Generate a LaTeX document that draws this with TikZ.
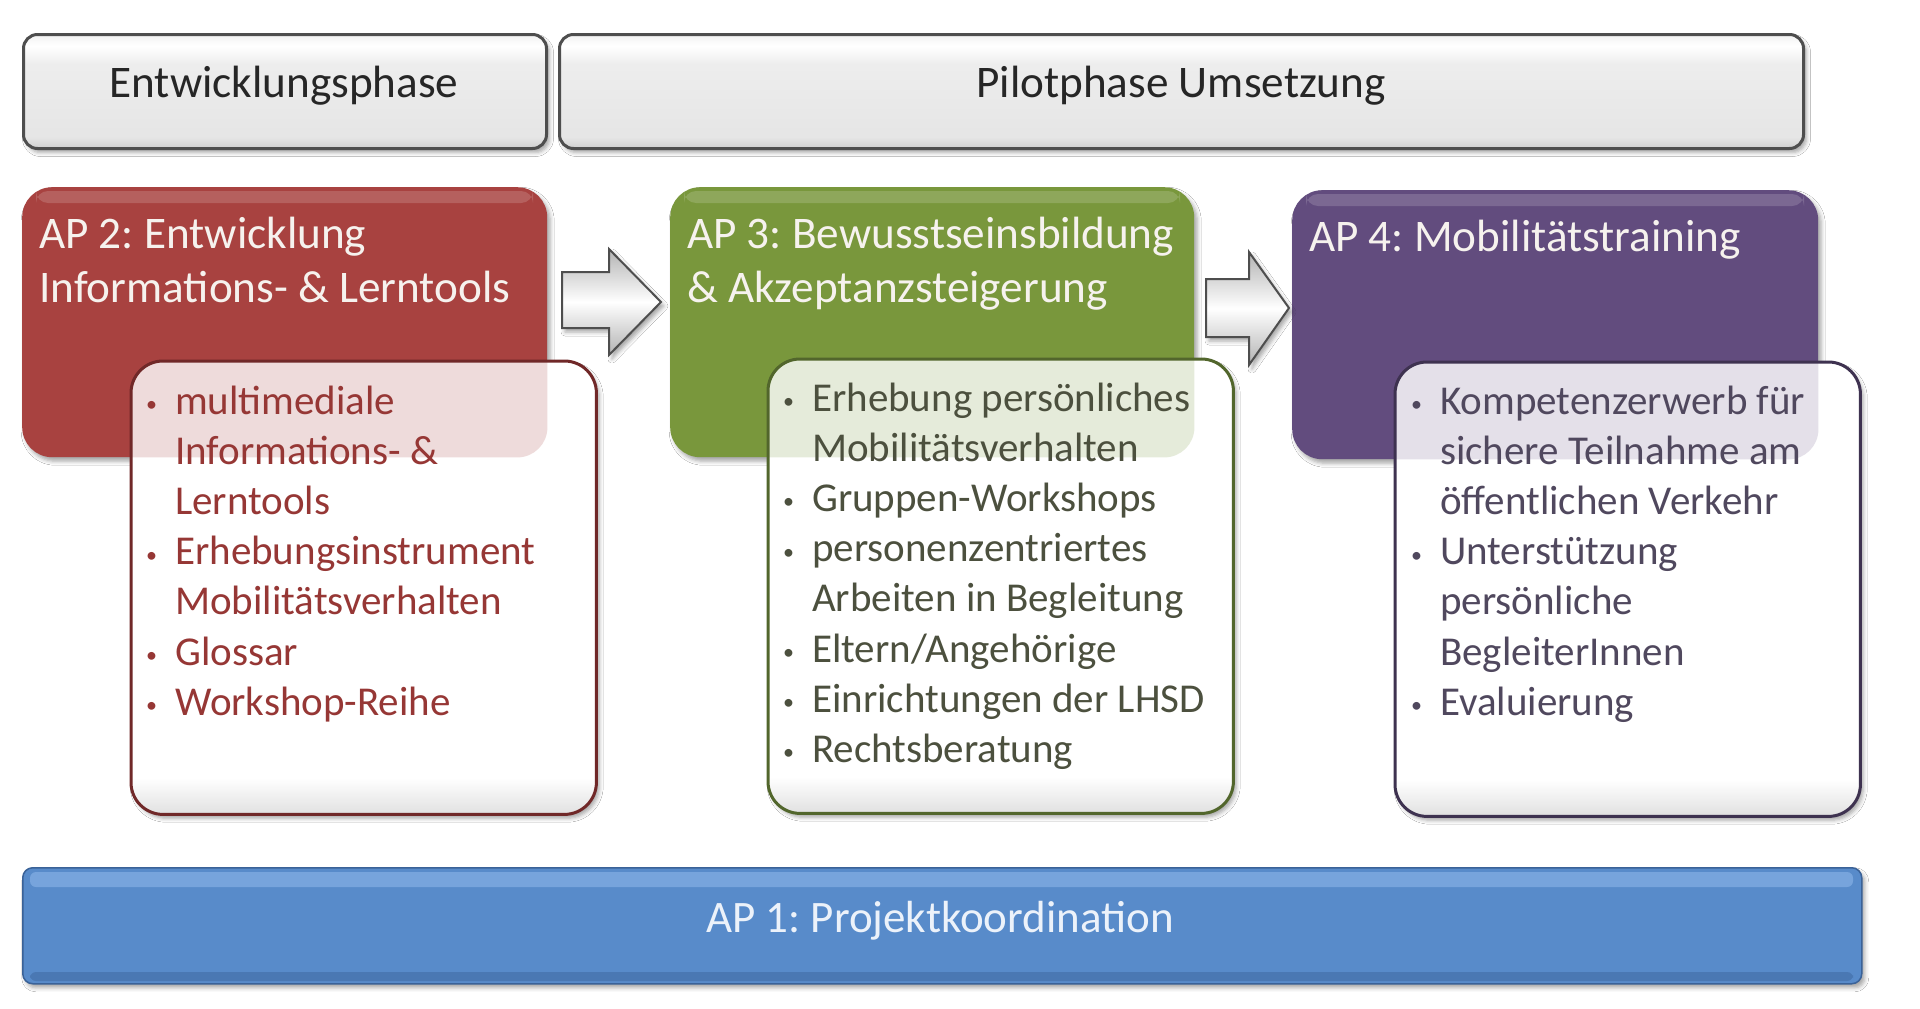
\documentclass[tikz,border=0pt]{standalone}
\usepackage{fontspec}
\setmainfont{Carlito}
\usetikzlibrary{shadows.blur}
\definecolor{redbox}{RGB}{168,66,64}
\definecolor{greenbox}{RGB}{121,151,60}
\definecolor{purplebox}{RGB}{98,76,126}
\definecolor{bluebar}{RGB}{88,139,202}
\definecolor{bluedark}{RGB}{58,98,152}
\definecolor{bluelight}{RGB}{140,182,232}
\definecolor{redborder}{RGB}{112,40,40}
\definecolor{greenborder}{RGB}{82,102,44}
\definecolor{purpleborder}{RGB}{62,50,80}
\definecolor{redtext}{RGB}{150,55,53}
\definecolor{greentext}{RGB}{76,80,62}
\definecolor{purpletext}{RGB}{80,72,94}
\definecolor{phaseborder}{RGB}{78,78,78}
\definecolor{titlelight}{RGB}{246,242,238}
\definecolor{ap1text}{RGB}{236,242,250}
\pgfdeclareverticalshading{listshade}{100bp}{color(0bp)=(gray!24); color(25bp)=(gray!24); color(29bp)=(white); color(100bp)=(white)}
\pgfdeclareverticalshading{phaseshade}{100bp}{color(0bp)=(gray!38); color(25bp)=(gray!38); color(30bp)=(gray!20); color(62bp)=(gray!14); color(70bp)=(white); color(75bp)=(gray!10); color(100bp)=(gray!10)}
\newcommand{\bul}{\makebox[35pt][l]{\hspace{6pt}\raisebox{2.5pt}{\fontsize{22}{22}\selectfont •}}}
\newcommand{\ind}{\hspace{35pt}}
\frenchspacing
\begin{document}
\begin{tikzpicture}[x=1pt,y=-1pt,
  shad/.style={blur shadow={shadow xshift=3pt,shadow yshift=-4pt,shadow blur radius=4pt,shadow opacity=35}},
  phasebox/.style={draw=phaseborder,line width=3pt,rounded corners=14pt,shading=phaseshade,inner sep=0pt,anchor=north west,shad},
  apbox/.style={rounded corners=30pt,inner sep=0pt,anchor=north west,shad},
  listbox/.style={rounded corners=32pt,inner sep=0pt,anchor=north west,shading=listshade,shad},
  listborder/.style={rounded corners=32pt,line width=3pt},
  blockarrow/.style={draw=phaseborder,line width=2pt,line join=miter,top color=gray!60,bottom color=gray!60,middle color=white,shad},
  phaselabel/.style={anchor=base,inner sep=0pt,font=\fontsize{45.2}{54}\selectfont,text=black!85},
  titletext/.style={anchor=base west,inner sep=0pt,font=\fontsize{45.2}{54}\selectfont,text=titlelight},
  listtext/.style={anchor=base west,inner sep=0pt,font=\fontsize{41}{50.2}\selectfont},
  gloss/.style={fill=white,opacity=0.16,rounded corners=12pt}
]
\useasboundingbox (0,0) rectangle (1920,1009);
\fill[white] (0,0) rectangle (1920,1009);

% phase boxes
\node[phasebox,minimum width=523pt,minimum height=114pt] (ent) at (22,33) {};
\node[phasebox,minimum width=1244pt,minimum height=114pt] (pilot) at (558,33) {};
\node[phaselabel] (entl) at (284,97) {Entwicklungsphase};
\node[phaselabel] (pilotl) at (1181,97) {Pilotphase Umsetzung};

% AP boxes
\node[apbox,fill=redbox,minimum width=525pt,minimum height=270pt] (ap2) at (22,187) {};
\node[apbox,fill=greenbox,minimum width=524pt,minimum height=270pt] (ap3) at (670,187) {};
\node[apbox,fill=purplebox,minimum width=526pt,minimum height=269pt] (ap4) at (1292,190) {};
\fill[gloss] (36,191) rectangle (533,203);
\fill[gloss] (684,191) rectangle (1180,203);
\fill[gloss] (1306,194) rectangle (1804,206);

% block arrows
\draw[blockarrow] (562,272) -- (609,272) -- (609,249) -- (661,302) -- (609,355) -- (609,328) -- (562,328) -- cycle;
\draw[blockarrow] (1206,279) -- (1249,279) -- (1249,252) -- (1289,308) -- (1249,365) -- (1249,337) -- (1206,337) -- cycle;

% list boxes
\node[listbox,minimum width=465pt,minimum height=453pt] (l2) at (131,361) {};
\node[listbox,minimum width=465pt,minimum height=454pt] (l3) at (768,359) {};
\node[listbox,minimum width=465pt,minimum height=454pt] (l4) at (1395,362) {};
% tint where the colour boxes show through
\begin{scope}
  \clip[rounded corners=30pt] (ap2.north west) rectangle (ap2.south east);
  \fill[redbox,opacity=0.19,rounded corners=32pt] (l2.north west) rectangle (l2.south east);
\end{scope}
\begin{scope}
  \clip[rounded corners=30pt] (ap3.north west) rectangle (ap3.south east);
  \fill[greenbox,opacity=0.19,rounded corners=32pt] (l3.north west) rectangle (l3.south east);
\end{scope}
\begin{scope}
  \clip[rounded corners=30pt] (ap4.north west) rectangle (ap4.south east);
  \fill[purplebox,opacity=0.17,rounded corners=32pt] (l4.north west) rectangle (l4.south east);
\end{scope}
\draw[listborder,draw=redborder] (l2.north west) rectangle (l2.south east);
\draw[listborder,draw=greenborder] (l3.north west) rectangle (l3.south east);
\draw[listborder,draw=purpleborder] (l4.north west) rectangle (l4.south east);

% titles
\node[titletext] (t2) at (39,248) {\begin{tabular}[t]{@{}l@{}}AP 2: Entwicklung\\Informations- \& Lerntools\end{tabular}};
\node[titletext] (t3) at (687,248) {\begin{tabular}[t]{@{}l@{}}AP 3: Bewusstseinsbildung\\\& Akzeptanzsteigerung\end{tabular}};
\node[titletext] (t4) at (1309,251) {AP 4: Mobilitätstraining};

% lists
\node[listtext,text=redtext] (x2) at (140,414) {\begin{tabular}[t]{@{}l@{}}
\bul multimediale\\ \ind Informations- \&\\ \ind Lerntools\\
\bul Erhebungsinstrument\\ \ind Mobilitätsverhalten\\
\bul Glossar\\ \bul Workshop-Reihe\end{tabular}};
\node[listtext,text=greentext] (x3) at (777,411) {\begin{tabular}[t]{@{}l@{}}
\bul Erhebung persönliches\\ \ind Mobilitätsverhalten\\
\bul Gruppen-Workshops\\
\bul personenzentriertes\\ \ind Arbeiten in Begleitung\\
\bul Eltern/Angehörige\\ \bul Einrichtungen der LHSD\\ \bul Rechtsberatung\end{tabular}};
\node[listtext,text=purpletext] (x4) at (1405,414) {\begin{tabular}[t]{@{}l@{}}
\bul Kompetenzerwerb für\\ \ind sichere Teilnahme am\\ \ind öffentlichen Verkehr\\
\bul Unterstützung\\ \ind persönliche\\ \ind BegleiterInnen\\
\bul Evaluierung\end{tabular}};

% AP1 bar
\node[inner sep=0pt,anchor=north west,rounded corners=10pt,draw=bluedark,line width=1.5pt,fill=bluebar,minimum width=1839pt,minimum height=116pt,shad] (ap1) at (22,867) {};
\fill[bluelight,opacity=0.6,rounded corners=6pt] (30,872) rectangle (1853,887);
\fill[bluedark,opacity=0.45,rounded corners=6pt] (30,972) rectangle (1853,981);
\node[anchor=base,inner sep=0pt,font=\fontsize{45}{54}\selectfont,text=ap1text] (ap1l) at (940,932) {AP 1: Projektkoordination};
\end{tikzpicture}
\end{document}
